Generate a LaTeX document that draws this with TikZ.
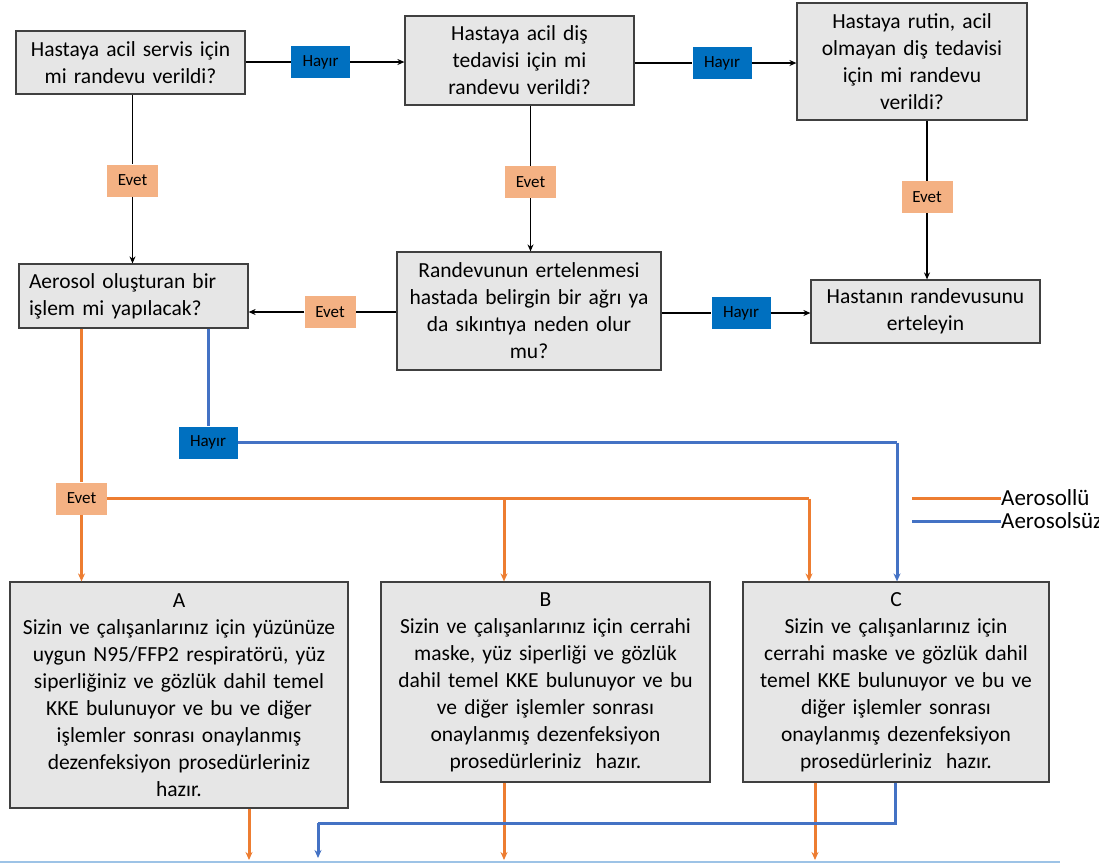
\documentclass[tikz,border=0pt]{standalone}
\usepackage{fontspec}
\setmainfont{Carlito}
\usetikzlibrary{arrows.meta}
\definecolor{boxfill}{HTML}{E6E6E6}
\definecolor{boxline}{HTML}{404040}
\definecolor{hayirfill}{HTML}{0070C0}
\definecolor{evetfill}{HTML}{F4B183}
\definecolor{aero}{HTML}{ED7D31}
\definecolor{noaero}{HTML}{4472C4}
\definecolor{baseline}{HTML}{9DC3E6}
\tikzset{
  box/.style={draw=boxline, fill=boxfill, line width=1.2pt, inner sep=0pt, align=center,
    font=\fontsize{21.5}{27}\selectfont},
  hayir/.style={fill=hayirfill, inner sep=0pt, minimum width=59pt, minimum height=32pt,
    font=\fontsize{17}{19}\selectfont},
  evet/.style={fill=evetfill, inner sep=0pt, minimum width=51pt, minimum height=32pt,
    font=\fontsize{17}{19}\selectfont},
  conn/.style={draw=black, line width=1.5pt},
  arr/.style={conn, -{Stealth[length=7pt,width=6pt]}},
  oline/.style={draw=aero, line width=3pt},
  oarr/.style={oline, -{Stealth[length=8pt,width=7pt]}},
  bline/.style={draw=noaero, line width=3pt},
  barr/.style={bline, -{Stealth[length=8pt,width=7pt]}},
  legend/.style={anchor=west, inner sep=0pt, font=\fontsize{23}{26}\selectfont}
}
\begin{document}
\begin{tikzpicture}[x=1pt,y=-1pt]
\useasboundingbox (0,0) rectangle (1099,863);
% boxes
\node[box, minimum width=229pt, minimum height=63pt, text width=224pt] (n1) at (130.5,62.5)
  {Hastaya acil servis için\\mi randevu verildi?};
\node[box, minimum width=229pt, minimum height=89pt, text width=224pt] (n2) at (519.5,60.5)
  {Hastaya acil diş\\tedavisi için mi\\randevu verildi?};
\node[box, minimum width=230pt, minimum height=117pt, text width=226pt] (n3) at (912,61.5)
  {Hastaya rutin, acil\\olmayan diş tedavisi\\için mi randevu\\verildi?};
\node[box, minimum width=229pt, minimum height=64pt, text width=209pt, align=left] (n4) at (133.5,296)
  {Aerosol oluşturan bir\\işlem mi yapılacak?};
\node[box, minimum width=264pt, minimum height=118pt, text width=260pt] (n5) at (529,311)
  {Randevunun ertelenmesi\\hastada belirgin bir ağrı ya\\da sıkıntıya neden olur\\mu?};
\node[box, minimum width=229pt, minimum height=63pt, text width=224pt] (n6) at (925.5,311.5)
  {Hastanın randevusunu\\erteleyin};
\node[box, minimum width=338pt, minimum height=226pt, text width=334pt] (a) at (179,695)
  {A\\Sizin ve çalışanlarınız için yüzünüze\\uygun N95/FFP2 respiratörü, yüz\\siperliğiniz ve gözlük dahil temel\\KKE bulunuyor ve bu ve diğer\\işlemler sonrası onaylanmış\\dezenfeksiyon prosedürleriniz\\hazır.};
\node[box, minimum width=329pt, minimum height=200pt, text width=325pt] (b) at (545.5,682)
  {B\\Sizin ve çalışanlarınız için cerrahi\\maske, yüz siperliği ve gözlük\\dahil temel KKE bulunuyor ve bu\\ve diğer işlemler sonrası\\onaylanmış dezenfeksiyon\\prosedürleriniz\ \ hazır.};
\node[box, minimum width=306pt, minimum height=200pt, text width=302pt] (c) at (896,682)
  {C\\Sizin ve çalışanlarınız için\\cerrahi maske ve gözlük dahil\\temel KKE bulunuyor ve bu ve\\diğer işlemler sonrası\\onaylanmış dezenfeksiyon\\prosedürleriniz\ \ hazır.};
% labels
\node[hayir] (h1) at (320.5,62) {Hayır};
\node[hayir] (h2) at (722,63) {Hayır};
\node[evet] (e1) at (132.5,180.5) {Evet};
\node[evet] (e2) at (530.5,182) {Evet};
\node[evet] (e3) at (927,197) {Evet};
\node[evet] (e4) at (330,312) {Evet};
\node[hayir] (h5) at (741,313) {Hayır};
\node[hayir] (hb) at (208,442.5) {Hayır};
\node[evet] (eo) at (81.5,498.5) {Evet};
% black connectors
\draw[conn] (n1.east |- h1) -- (h1);
\draw[arr] (h1) -- (n2.west |- h1);
\draw[conn, line width=2.2pt] (n2.east |- h2) -- (h2);
\draw[arr] (h2) -- (n3.west |- h2);
\draw[conn] (n1.south -| e1) -- (e1);
\draw[arr] (e1) -- (n4.north -| e1);
\draw[conn] (n2.south -| e2) -- (e2);
\draw[arr] (e2) -- (n5.north -| e2);
\draw[conn] (n3.south -| e3) -- (e3);
\draw[arr] (e3) -- (n6.north -| e3);
\draw[conn] (n5.west |- e4) -- (e4);
\draw[arr] (e4) -- (n4.east |- e4);
\draw[conn] (n5.east |- h5) -- (h5);
\draw[arr] (h5) -- (n6.west |- h5);
% orange (aerosol) paths
\coordinate (jB) at (504,498.5);
\coordinate (jC) at (809,498.5);
\draw[oline] (n4.south -| eo) -- (eo);
\draw[oarr] (eo) -- (a.north -| eo);
\draw[oline] (eo.east) -- (jC);
\draw[oarr] (jB) -- (b.north -| jB);
\draw[oarr] (jC) -- (c.north -| jC);
% blue (non-aerosol) path
\coordinate (jD) at (897,442.5);
\draw[bline] (n4.south -| hb) -- (hb);
\draw[bline] (hb.east) -- (jD);
\draw[barr] (jD) -- (c.north -| jD);
% bottom outputs
\coordinate (oA) at (249,860);
\coordinate (oB) at (504,860);
\coordinate (oC) at (815,860);
\coordinate (bC) at (895,823);
\coordinate (bEnd) at (318,858);
\draw[oarr] (a.south -| oA) -- (oA);
\draw[oarr] (b.south -| oB) -- (oB);
\draw[oarr] (c.south -| oC) -- (oC);
\draw[bline] (c.south -| bC) -- (bC) -- (bC -| bEnd);
\draw[barr] (bC -| bEnd) -- (bEnd);
% bottom light line
\coordinate (bl1) at (0,862);
\coordinate (bl2) at (1060,862);
\draw[draw=baseline, line width=1.5pt] (bl1) -- (bl2);
% legend
\coordinate (l1s) at (912,498);
\coordinate (l1e) at (1001,498);
\coordinate (l2s) at (912,521);
\coordinate (l2e) at (1001,521);
\draw[oline] (l1s) -- (l1e);
\draw[bline] (l2s) -- (l2e);
\node[legend] (lg1) at (l1e) {Aerosollü};
\node[legend] (lg2) at (l2e) {Aerosolsüz};
\end{tikzpicture}
\end{document}
